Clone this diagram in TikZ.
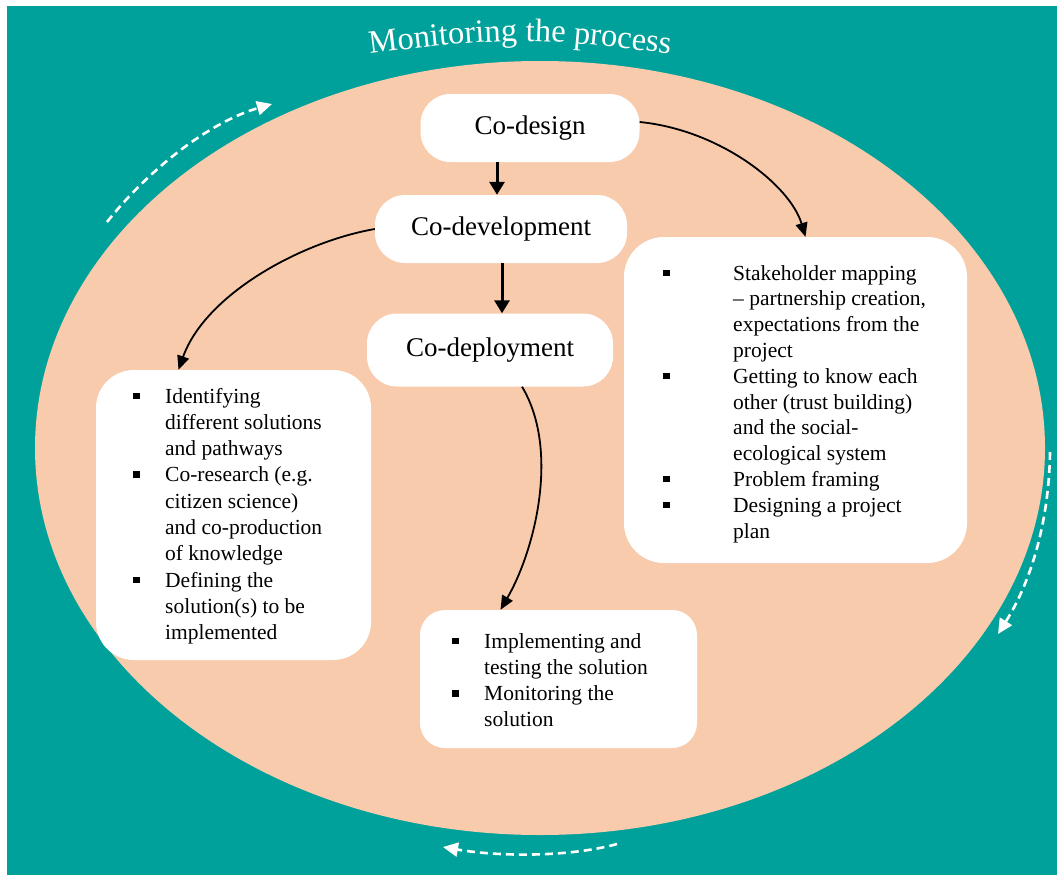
\documentclass[tikz,border=0pt]{standalone}
\usepackage{fontspec}
\setmainfont{Liberation Serif}
\usetikzlibrary{arrows.meta,decorations.text}
\definecolor{tealbg}{HTML}{00A19A}
\definecolor{peach}{HTML}{F8CBAD}
\newcommand\bsq{\rule[4pt]{6.5pt}{6.5pt}}
\begin{document}
\begin{tikzpicture}[x=1pt,y=-1pt,
  pill/.style={fill=white, rounded corners=30pt, inner sep=0pt, font=\fontsize{27}{32}\selectfont},
  listbox/.style={fill=white, inner sep=0pt},
  listtext/.style={anchor=base west, inner sep=0pt, align=left},
  flow/.style={line width=1.8pt, -{Triangle[length=14pt,width=12pt]}},
  thick arrow/.style={line width=3pt, -{Triangle[length=13pt,width=15pt]}},
  cycle arrow/.style={white, line width=2.6pt, dash pattern=on 8pt off 5pt, -{Triangle[length=15pt,width=14pt]}}
]
\useasboundingbox (0,0) rectangle (1057,875);
\fill[white] (0,0) rectangle (1057,875);
\fill[tealbg] (7,6) rectangle (1057,875);
\fill[peach] (540,448) ellipse [x radius=505, y radius=387];

% title (upward y axis in this scope)
\begin{scope}[y=1pt]
\path[decorate, decoration={text along path, text align=center, text color=white,
  text={|\fontsize{32.5}{36}\selectfont|Monitoring the process}}]
  (330,-59) .. controls (520,-35) .. (710,-59);
\end{scope}

% stage nodes
\node[pill, minimum width=219pt, minimum height=68pt] (design) at (530,128) {Co-design};
\node[pill, minimum width=252pt, minimum height=68pt] (devel) at (501,229) {Co-development};
\node[pill, minimum width=246pt, minimum height=73pt] (deploy) at (490,350) {Co-deployment};

% list boxes
\node[listbox, rounded corners=40pt, minimum width=343pt, minimum height=326pt] (rbox) at (795.5,400) {};
\node[listbox, rounded corners=38pt, minimum width=275pt, minimum height=290pt] (lbox) at (233.5,515) {};
\node[listbox, rounded corners=25pt, minimum width=277pt, minimum height=138pt] (bbox) at (558.5,679) {};

\node[listtext, font=\fontsize{21.5}{25.8}\selectfont] (rtext) at (663,280) {%
\begin{tabular}[t]{@{}p{70pt}@{}l@{}}
\bsq & Stakeholder mapping\\
 & – partnership creation,\\
 & expectations from the\\
 & project\\
\bsq & Getting to know each\\
 & other (trust building)\\
 & and the social-\\
 & ecological system\\
\bsq & Problem framing\\
\bsq & Designing a project\\
 & plan
\end{tabular}};

\node[listtext, font=\fontsize{21.5}{26.3}\selectfont] (ltext) at (133,403) {%
\begin{tabular}[t]{@{}p{32pt}@{}l@{}}
\bsq & Identifying\\
 & different solutions\\
 & and pathways\\
\bsq & Co-research (e.g.\\
 & citizen science)\\
 & and co-production\\
 & of knowledge\\
\bsq & Defining the\\
 & solution(s) to be\\
 & implemented
\end{tabular}};

\node[listtext, font=\fontsize{21.5}{26.3}\selectfont] (btext) at (452,648) {%
\begin{tabular}[t]{@{}p{32pt}@{}l@{}}
\bsq & Implementing and\\
 & testing the solution\\
\bsq & Monitoring the\\
 & solution
\end{tabular}};

% connectors
\draw[thick arrow] ([xshift=-33pt]design.south) -- ([xshift=-4pt]devel.north);
\draw[thick arrow] ([xshift=1pt]devel.south) -- ([xshift=12pt]deploy.north);
\draw[flow] ([yshift=6pt]design.east) .. controls (720,130) and (790,185) .. ([xshift=10pt]rbox.north);
\draw[flow] (devel.west) .. controls (300,242) and (205,295) .. ([xshift=-55pt]lbox.north);
\draw[flow] ([xshift=32pt]deploy.south) .. controls (560,450) and (535,550) .. ([xshift=-58pt]bbox.north);

% cycle arrows
\coordinate (c1s) at (107,222);
\coordinate (c1e) at (272,104);
\coordinate (c2s) at (1050,452);
\coordinate (c2e) at (998,634);
\coordinate (c3s) at (617,844);
\coordinate (c3e) at (443,847);
\draw[cycle arrow] (c1s) .. controls (150,168) and (210,122) .. (c1e);
\draw[cycle arrow] (c2s) .. controls (1049,520) and (1032,580) .. (c2e);
\draw[cycle arrow] (c3s) .. controls (570,857) and (500,857) .. (c3e);
\end{tikzpicture}
\end{document}
